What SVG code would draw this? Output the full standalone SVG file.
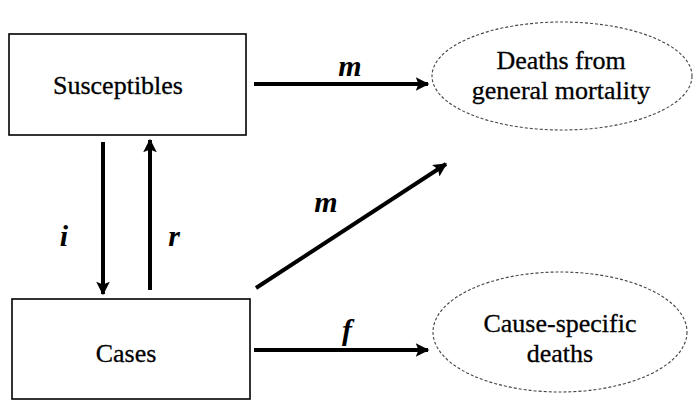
<svg xmlns="http://www.w3.org/2000/svg" width="694" height="409" viewBox="0 0 694 409">
<defs>
<style>
.box{fill:#fff;stroke:#000;stroke-width:1.6}
.ell{fill:#fff;stroke:#444;stroke-width:1.1;stroke-dasharray:3 2}
.arr{stroke:#000;stroke-width:4;fill:none;marker-end:url(#ah)}
.lbl{font-family:"Liberation Serif","Times New Roman",serif;font-size:26px;fill:#000;stroke:#000;stroke-width:0.3;text-anchor:middle}
.var{font-family:"Liberation Serif","Times New Roman",serif;font-size:30px;font-style:italic;font-weight:bold;fill:#000;text-anchor:middle}
</style>
<marker id="ah" viewBox="0 0 10 10" refX="9" refY="5" markerWidth="4.5" markerHeight="3.4" orient="auto" markerUnits="strokeWidth">
<path d="M0,0 L10,5 L0,10 L2,5 Z" fill="#000"/>
</marker>
</defs>
<rect width="694" height="409" fill="#fff"/>
<g id="susceptibles">
<rect class="box" x="9" y="34" width="237" height="101"/>
<text class="lbl" x="118" y="94">Susceptibles</text>
</g>
<g id="cases">
<rect class="box" x="12" y="299" width="238" height="100"/>
<text class="lbl" x="126" y="362">Cases</text>
</g>
<g id="deaths-general">
<ellipse class="ell" cx="562" cy="76" rx="130" ry="54"/>
<text class="lbl" x="561" y="69">Deaths from</text>
<text class="lbl" x="561" y="99">general mortality</text>
</g>
<g id="deaths-cause">
<ellipse class="ell" cx="560" cy="332" rx="127" ry="60"/>
<text class="lbl" x="560" y="332">Cause-specific</text>
<text class="lbl" x="560" y="362">deaths</text>
</g>
<g id="connectors">
<line class="arr" x1="254" y1="84" x2="428" y2="84"/>
<line class="arr" x1="256" y1="288" x2="446" y2="164"/>
<line class="arr" x1="254" y1="350" x2="428" y2="350"/>
<line class="arr" x1="103" y1="142" x2="103" y2="294"/>
<line class="arr" x1="150" y1="290" x2="150" y2="140"/>
<text class="var" x="350" y="76">m</text>
<text class="var" x="326" y="212">m</text>
<text class="var" x="347" y="340">f</text>
<text class="var" x="64" y="246">i</text>
<text class="var" x="174" y="246">r</text>
</g>
</svg>
